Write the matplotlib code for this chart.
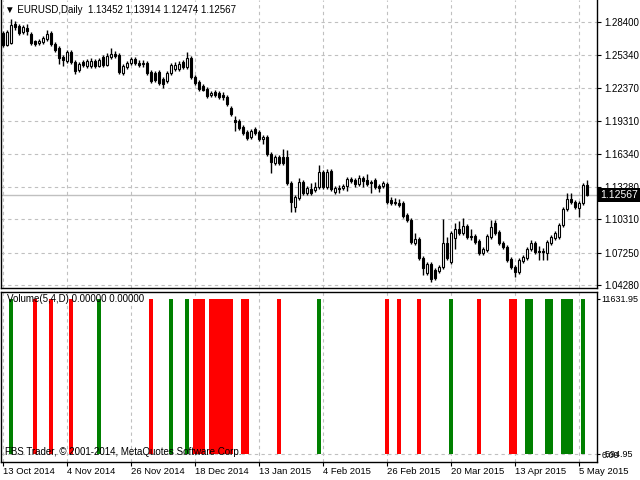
import numpy as np
import matplotlib
matplotlib.use('Agg')
import matplotlib.pyplot as plt
import matplotlib.transforms as mtransforms

plt.rcParams['font.family'] = ['Liberation Sans', 'DejaVu Sans']
plt.rcParams['font.size'] = 7

# EURUSD daily candles, one row per bar (open, high, low, close)
opens = [1.2738, 1.2628, 1.2647, 1.2821, 1.2802, 1.2747, 1.2784, 1.2729, 1.2665, 1.2647,
         1.2656, 1.2683, 1.2738, 1.2638, 1.2601, 1.2519, 1.2482, 1.2564, 1.2473, 1.2399,
         1.2473, 1.2436, 1.2436, 1.2482, 1.2436, 1.2519, 1.2445, 1.2519, 1.2546, 1.2537,
         1.2372, 1.2427, 1.2464, 1.2500, 1.2464, 1.2464, 1.2464, 1.2381, 1.2372, 1.2381,
         1.2317, 1.2299, 1.2372, 1.2409, 1.2409, 1.2473, 1.2427, 1.2509, 1.2335, 1.2290,
         1.2253, 1.2225, 1.2171, 1.2198, 1.2189, 1.2171, 1.2152, 1.2051, 1.1942, 1.1933,
         1.1878, 1.1832, 1.1786, 1.1859, 1.1832, 1.1768, 1.1786, 1.1630, 1.1548, 1.1603,
         1.1603, 1.1603, 1.1365, 1.1145, 1.1227, 1.1374, 1.1273, 1.1310, 1.1301, 1.1328,
         1.1466, 1.1328, 1.1475, 1.1283, 1.1319, 1.1319, 1.1337, 1.1401, 1.1392, 1.1356,
         1.1411, 1.1392, 1.1374, 1.1392, 1.1337, 1.1337, 1.1356, 1.1209, 1.1191, 1.1182,
         1.1182, 1.1072, 1.1026, 1.0815, 1.0852, 1.0678, 1.0541, 1.0623, 1.0568, 1.0559,
         1.0595, 1.0815, 1.0641, 1.0861, 1.0944, 1.0907, 1.0971, 1.0879, 1.0879, 1.0834,
         1.0724, 1.0751, 1.0870, 1.0999, 1.0916, 1.0815, 1.0779, 1.0669, 1.0595, 1.0550,
         1.0651, 1.0678, 1.0760, 1.0815, 1.0742, 1.0742, 1.0724, 1.0815, 1.0861, 1.0870,
         1.0980, 1.1127, 1.1218, 1.1191, 1.1136, 1.1182, 1.13452]
highs = [1.2757, 1.2766, 1.2866, 1.2848, 1.2821, 1.2811, 1.2821, 1.2747, 1.2674, 1.2683,
         1.2711, 1.2766, 1.2757, 1.2656, 1.2619, 1.2537, 1.2583, 1.2583, 1.2491, 1.2473,
         1.2491, 1.2500, 1.2509, 1.2500, 1.2509, 1.2537, 1.2555, 1.2601, 1.2573, 1.2555,
         1.2454, 1.2482, 1.2519, 1.2519, 1.2491, 1.2491, 1.2482, 1.2399, 1.2390, 1.2399,
         1.2335, 1.2390, 1.2464, 1.2473, 1.2482, 1.2491, 1.2564, 1.2528, 1.2354, 1.2308,
         1.2271, 1.2244, 1.2207, 1.2216, 1.2207, 1.2198, 1.2171, 1.2070, 1.1978, 1.1951,
         1.1896, 1.1850, 1.1859, 1.1878, 1.1850, 1.1804, 1.1804, 1.1649, 1.1621, 1.1621,
         1.1676, 1.1667, 1.1383, 1.1255, 1.1411, 1.1392, 1.1337, 1.1365, 1.1374, 1.1530,
         1.1484, 1.1493, 1.1493, 1.1337, 1.1347, 1.1356, 1.1420, 1.1420, 1.1411, 1.1438,
         1.1429, 1.1447, 1.1392, 1.1411, 1.1356, 1.1383, 1.1374, 1.1237, 1.1227, 1.1218,
         1.1200, 1.1090, 1.1044, 1.0907, 1.0870, 1.0696, 1.0641, 1.0641, 1.0586, 1.0614,
         1.1035, 1.0870, 1.0925, 1.0999, 1.1017, 1.1044, 1.0989, 1.0944, 1.0898, 1.0852,
         1.0779, 1.0898, 1.1026, 1.1026, 1.0934, 1.0834, 1.0797, 1.0687, 1.0614, 1.0678,
         1.0706, 1.0779, 1.0843, 1.0834, 1.0788, 1.0770, 1.0843, 1.0889, 1.0925, 1.0999,
         1.1145, 1.1273, 1.1273, 1.1209, 1.1200, 1.1365, 1.13914]
lows = [1.2610, 1.2619, 1.2638, 1.2766, 1.2720, 1.2729, 1.2720, 1.2628, 1.2619, 1.2628,
        1.2638, 1.2665, 1.2619, 1.2564, 1.2454, 1.2436, 1.2464, 1.2454, 1.2363, 1.2381,
        1.2427, 1.2418, 1.2418, 1.2418, 1.2427, 1.2427, 1.2436, 1.2500, 1.2509, 1.2363,
        1.2354, 1.2409, 1.2445, 1.2445, 1.2427, 1.2427, 1.2354, 1.2280, 1.2290, 1.2262,
        1.2235, 1.2280, 1.2354, 1.2390, 1.2390, 1.2409, 1.2409, 1.2317, 1.2262, 1.2207,
        1.2207, 1.2143, 1.2152, 1.2152, 1.2134, 1.2125, 1.2070, 1.1978, 1.1841, 1.1850,
        1.1804, 1.1759, 1.1768, 1.1804, 1.1749, 1.1722, 1.1612, 1.1456, 1.1530, 1.1530,
        1.1530, 1.1347, 1.1099, 1.1099, 1.1209, 1.1255, 1.1255, 1.1255, 1.1283, 1.1310,
        1.1310, 1.1310, 1.1292, 1.1264, 1.1273, 1.1301, 1.1292, 1.1365, 1.1328, 1.1337,
        1.1328, 1.1337, 1.1273, 1.1310, 1.1283, 1.1319, 1.1173, 1.1163, 1.1163, 1.1145,
        1.1044, 1.1008, 1.0806, 1.0797, 1.0660, 1.0522, 1.0522, 1.0458, 1.0476, 1.0541,
        1.0577, 1.0660, 1.0623, 1.0760, 1.0889, 1.0889, 1.0852, 1.0843, 1.0806, 1.0706,
        1.0706, 1.0733, 1.0852, 1.0889, 1.0797, 1.0760, 1.0641, 1.0577, 1.0504, 1.0531,
        1.0632, 1.0660, 1.0742, 1.0715, 1.0660, 1.0660, 1.0660, 1.0797, 1.0843, 1.0852,
        1.0962, 1.1109, 1.1173, 1.1127, 1.1054, 1.1163, 1.12474]
closes = [1.2628, 1.2747, 1.2811, 1.2793, 1.2738, 1.2793, 1.2757, 1.2647, 1.2638, 1.2665,
          1.2692, 1.2729, 1.2638, 1.2583, 1.2509, 1.2491, 1.2564, 1.2473, 1.2390, 1.2454,
          1.2445, 1.2482, 1.2482, 1.2436, 1.2491, 1.2445, 1.2528, 1.2546, 1.2528, 1.2381,
          1.2436, 1.2464, 1.2500, 1.2464, 1.2445, 1.2454, 1.2372, 1.2299, 1.2308, 1.2280,
          1.2271, 1.2372, 1.2445, 1.2445, 1.2454, 1.2427, 1.2509, 1.2335, 1.2280, 1.2225,
          1.2216, 1.2161, 1.2189, 1.2171, 1.2152, 1.2152, 1.2088, 1.1997, 1.1923, 1.1868,
          1.1823, 1.1777, 1.1841, 1.1823, 1.1768, 1.1786, 1.1630, 1.1557, 1.1603, 1.1548,
          1.1548, 1.1365, 1.1191, 1.1237, 1.1374, 1.1273, 1.1319, 1.1273, 1.1328, 1.1466,
          1.1328, 1.1466, 1.1310, 1.1319, 1.1310, 1.1337, 1.1401, 1.1383, 1.1356, 1.1411,
          1.1383, 1.1356, 1.1365, 1.1328, 1.1319, 1.1365, 1.1191, 1.1182, 1.1182, 1.1163,
          1.1063, 1.1026, 1.0824, 1.0852, 1.0678, 1.0586, 1.0623, 1.0486, 1.0495, 1.0595,
          1.0815, 1.0678, 1.0907, 1.0944, 1.0907, 1.0971, 1.0870, 1.0870, 1.0824, 1.0724,
          1.0760, 1.0879, 1.0962, 1.0907, 1.0815, 1.0779, 1.0660, 1.0595, 1.0550, 1.0660,
          1.0687, 1.0760, 1.0815, 1.0733, 1.0733, 1.0733, 1.0824, 1.0870, 1.0907, 1.0980,
          1.1127, 1.1218, 1.1191, 1.1145, 1.1182, 1.1347, 1.12567]

price_levels = [1.28400, 1.25340, 1.22370, 1.19310, 1.16340, 1.13280, 1.10310, 1.07250, 1.04280]
last_price = 1.12567

# Volume(5,4,D) signal bars
red_bars = [8, 12, 17, 37, 48, 49, 50, 52, 53, 54, 55, 56, 57, 60, 61, 69,
            96, 99, 104, 119, 127, 128]
green_bars = [2, 24, 42, 46, 79, 112, 131, 132, 136, 137, 140, 141, 142, 145]
signal_value = 11631.95
vol_min = -594.95

date_ticks = [0, 16, 32, 48, 64, 80, 96, 112, 128, 144]
date_labels = ['13 Oct 2014', '4 Nov 2014', '26 Nov 2014', '18 Dec 2014', '13 Jan 2015',
               '4 Feb 2015', '26 Feb 2015', '20 Mar 2015', '13 Apr 2015', '5 May 2015']

W, H = 640, 480
fig = plt.figure(figsize=(6.4, 4.8), dpi=100)
fig.patch.set_facecolor('white')

def px_axes(x0, y0, x1, y1):
    return fig.add_axes([x0 / W, 1 - y1 / H, (x1 - x0) / W, (y1 - y0) / H])

grid_kw = dict(color='#c0c0c0', linestyle=(0, (3, 3)), linewidth=0.8)

# ---- price window
ax = px_axes(1, 0, 597, 288)
o = np.array(opens); h = np.array(highs); l = np.array(lows); c = np.array(closes)
idx = np.arange(len(o))
bull = c >= o
ax.vlines(idx, l, h, color='black', linewidth=1.0, zorder=3)
body = np.maximum(np.abs(c - o), 0.0003)
ax.bar(idx[bull], body[bull], bottom=np.minimum(o, c)[bull], width=0.55,
       color='white', edgecolor='black', linewidth=0.8, zorder=4)
ax.bar(idx[~bull], body[~bull], bottom=np.minimum(o, c)[~bull], width=0.55,
       color='black', edgecolor='black', linewidth=0.8, zorder=4)

ax.axhline(last_price, color='#c0c0c0', linewidth=1.0, zorder=2)
ax.set_xlim(-0.5, 148.5)
ax.set_ylim(1.04032, 1.30404)
ax.set_yticks(price_levels)
ax.set_yticklabels(['%.5f' % v for v in price_levels])
ax.yaxis.tick_right()
ax.tick_params(axis='y', length=3, pad=2, labelsize=7, direction='out')
ax.set_xticks(date_ticks)
ax.tick_params(axis='x', length=0, labelbottom=False)
ax.grid(True, **grid_kw)
ax.set_axisbelow(True)
ax.spines['top'].set_visible(False)
for s in ['left', 'right', 'bottom']:
    ax.spines[s].set_linewidth(1.0)

blend = mtransforms.blended_transform_factory(ax.transAxes, ax.transData)
ax.text(1.006, last_price, '%.5f' % last_price, transform=blend, color='white',
        fontsize=7.5, va='center', ha='left', zorder=10, clip_on=False,
        bbox=dict(facecolor='black', edgecolor='none', pad=1.6))

fig.text(5 / W, 1 - 10 / H, '\u25bc EURUSD,Daily  %.5f %.5f %.5f %.5f' % (opens[-1], highs[-1], lows[-1], closes[-1]),
         va='center', ha='left', fontsize=7)

# ---- volume window
av = px_axes(1, 292, 597, 462)
av.bar(red_bars, [signal_value] * len(red_bars), width=0.95, color='#ff0000', linewidth=0)
av.bar(green_bars, [signal_value] * len(green_bars), width=0.95, color='#008000', linewidth=0)
av.set_xlim(-0.5, 148.5)
av.set_ylim(vol_min, 12157)
av.axhline(0, zorder=0, **grid_kw)
for t in date_ticks:
    av.axvline(t, zorder=0, **grid_kw)
av.set_yticks([0, signal_value])
av.set_yticklabels(['0.00', '%.2f' % signal_value])
av.yaxis.tick_right()
av.tick_params(axis='y', length=2, pad=1, labelsize=6.5)
bl2 = mtransforms.blended_transform_factory(av.transAxes, av.transData)
av.text(1.0 + 6 / 596, 0, '%.2f' % vol_min, transform=bl2, va='center', ha='left',
        fontsize=6.5, clip_on=False)

av.set_xticks(date_ticks)
av.set_xticklabels(date_labels, ha='left')
av.tick_params(axis='x', length=3, pad=0.5, labelsize=6.8)
for s in av.spines.values():
    s.set_linewidth(1.0)

av.text(6 / 596, 1 - 7 / 170, 'Volume(5,4,D) 0.00000 0.00000', transform=av.transAxes,
        va='center', ha='left', fontsize=7, zorder=5)
av.text(4 / 596, 10 / 170, 'FBS Trader, \u00a9 2001-2014, MetaQuotes Software Corp.',
        transform=av.transAxes, va='center', ha='left', fontsize=7, zorder=5)

fig.savefig('out.png', dpi=100, facecolor='white')
